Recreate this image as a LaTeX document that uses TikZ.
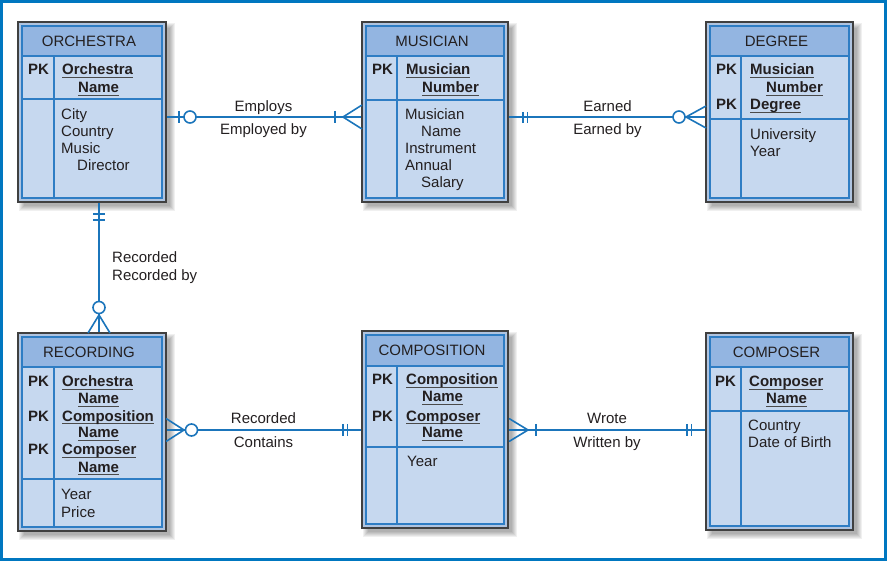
\documentclass[tikz,border=0pt]{standalone}
\usepackage{fontspec}
\setmainfont{Liberation Sans}
\usetikzlibrary{calc}
\definecolor{framec}{HTML}{0077C0}
\definecolor{relblue}{HTML}{1B75BB}
\definecolor{lineblue}{HTML}{2E7DC4}
\definecolor{headfill}{HTML}{93B5E1}
\definecolor{bodyfill}{HTML}{C6D8EF}
\definecolor{bandc}{HTML}{AFC4E0}
\definecolor{textc}{HTML}{231F20}
\definecolor{ulc}{HTML}{4A4A4A}
\newcommand\kul[1]{\setbox0=\hbox{#1}\rlap{\color{ulc}\rule[-3.2pt]{\wd0}{1.6pt}}\box0}
\newcommand\etxt[4]{\node[txt] (#1) at (#2,#3) {#4};}
\newcommand\entbox[9]{%
  \foreach \d in {0,1,2,3,4,5}{
    \fill[black, opacity=0.06] (#2+6-\d,#3+6-\d) rectangle (#4+4+\d,#5+4+\d);
  }
  \node[entframe, minimum width={#4-#2}, minimum height={#5-#3}] (#1) at ({(#2+#4)/2},{(#3+#5)/2}) {};
  \fill[headfill] (#2+4,#3+4) rectangle (#4-4,#6);
  \fill[bodyfill] (#2+4,#6) rectangle (#4-4,#5-4);
  \draw[innerline] (#2+4,#3+4) rectangle (#4-4,#5-4);
  \draw[innerline] (#2+4,#6) -- (#4-4,#6);
  \draw[innerline] (#2+4,#7) -- (#4-4,#7);
  \draw[innerline] (#8,#6) -- (#8,#5-4);
  \node[txt, anchor=base] (#1-t) at ({(#2+#4)/2-3},#3+25) {#9};
}
\tikzset{
  entframe/.style={draw=black!75, line width=1.3pt, fill=bandc, inner sep=0pt},
  innerline/.style={draw=lineblue, line width=1.2pt},
  rel/.style={draw=relblue, line width=1.8pt},
  relmk/.style={draw=relblue, line width=1.6pt},
  txt/.style={inner sep=0pt, anchor=base west, text=textc},
}
\begin{document}
\begin{tikzpicture}[x=1pt, y=-1pt, font=\fontsize{15}{17}\selectfont]
\useasboundingbox (0,0) rectangle (887,561);
\draw[framec, line width=3pt] (1.5,1.5) rectangle (885.5,559.5);

% ---------- entities ----------
\entbox{orch}{18}{22}{166}{202}{56}{99}{54}{ORCHESTRA}
\entbox{mus}{362}{22}{508}{202}{56}{100}{397}{MUSICIAN}
\entbox{deg}{706}{22}{853}{202}{56}{119}{741}{DEGREE}
\entbox{rec}{18}{333}{166}{531}{367}{479}{54}{RECORDING}
\entbox{comp}{362}{331}{508}{528}{366}{447}{397}{COMPOSITION}
\entbox{cmpr}{706}{333}{853}{530}{367}{411}{741}{COMPOSER}

% ORCHESTRA
\etxt{o1}{28}{75}{\textbf{PK}}
\etxt{o2}{62}{75}{\kul{\textbf{Orchestra}}}
\etxt{o3}{78}{93}{\kul{\textbf{Name}}}
\etxt{o4}{61}{120}{City}
\etxt{o5}{61}{137}{Country}
\etxt{o6}{61}{154}{Music}
\etxt{o7}{77}{171}{Director}

% MUSICIAN
\etxt{m1}{372}{75}{\textbf{PK}}
\etxt{m2}{406}{75}{\kul{\textbf{Musician}}}
\etxt{m3}{422}{93}{\kul{\textbf{Number}}}
\etxt{m4}{405}{120}{Musician}
\etxt{m5}{421}{137}{Name}
\etxt{m6}{405}{154}{Instrument}
\etxt{m7}{405}{171}{Annual}
\etxt{m8}{421}{188}{Salary}

% DEGREE
\etxt{d1}{716}{75}{\textbf{PK}}
\etxt{d2}{750}{75}{\kul{\textbf{Musician}}}
\etxt{d3}{766}{93}{\kul{\textbf{Number}}}
\etxt{d4}{716}{110}{\textbf{PK}}
\etxt{d5}{750}{110}{\kul{\textbf{Degree}}}
\etxt{d6}{750}{140}{University}
\etxt{d7}{750}{157}{Year}

% RECORDING
\etxt{r1}{28}{387}{\textbf{PK}}
\etxt{r2}{62}{387}{\kul{\textbf{Orchestra}}}
\etxt{r3}{78}{404}{\kul{\textbf{Name}}}
\etxt{r4}{28}{421}{\textbf{PK}}
\etxt{r5}{62}{421}{\kul{\textbf{Composition}}}
\etxt{r6}{78}{438}{\kul{\textbf{Name}}}
\etxt{r7}{28}{455}{\textbf{PK}}
\etxt{r8}{62}{455}{\kul{\textbf{Composer}}}
\etxt{r9}{78}{472}{\kul{\textbf{Name}}}
\etxt{r10}{61}{500}{Year}
\etxt{r11}{61}{517}{Price}

% COMPOSITION
\etxt{c1}{372}{385}{\textbf{PK}}
\etxt{c2}{406}{385}{\kul{\textbf{Composition}}}
\etxt{c3}{422}{402}{\kul{\textbf{Name}}}
\etxt{c4}{372}{421}{\textbf{PK}}
\etxt{c5}{406}{421}{\kul{\textbf{Composer}}}
\etxt{c6}{422}{438}{\kul{\textbf{Name}}}
\etxt{c7}{407}{467}{Year}

% COMPOSER
\etxt{p1}{715}{387}{\textbf{PK}}
\etxt{p2}{749}{387}{\kul{\textbf{Composer}}}
\etxt{p3}{766}{404}{\kul{\textbf{Name}}}
\etxt{p4}{748}{431}{Country}
\etxt{p5}{748}{448}{Date of Birth}

% ---------- relationships ----------
\coordinate (ya) at (0,117);
\coordinate (yb) at (0,430);
\coordinate (xa) at (99,0);

% ORCHESTRA -- MUSICIAN
\draw[rel] (orch.east |- ya) -- (mus.west |- ya);
\draw[relmk] (179,111) -- (179,123);
\draw[relmk, fill=white] (190,117) circle (6pt);
\draw[relmk] (335,111) -- (335,123);
\draw[relmk] (362,105) -- (343,117) -- (362,129);
\node[txt, anchor=base] (l1) at (263.5,112) {Employs};
\node[txt, anchor=base] (l2) at (263.5,135) {Employed by};

% MUSICIAN -- DEGREE
\draw[rel] (mus.east |- ya) -- (deg.west |- ya);
\draw[relmk] (523,112) -- (523,123);
\draw[relmk] (527.5,112) -- (527.5,123);
\draw[relmk] (706,106) -- (686,117) -- (706,128);
\draw[relmk, fill=white] (679,117) circle (6pt);
\node[txt, anchor=base] (l3) at (607.5,112) {Earned};
\node[txt, anchor=base] (l4) at (607.5,135) {Earned by};

% ORCHESTRA -- RECORDING
\draw[rel] (orch.south -| xa) -- (rec.north -| xa);
\draw[relmk] (93,214) -- (105,214);
\draw[relmk] (93,220) -- (105,220);
\draw[relmk] (88,333) -- (99,315) -- (110,333);
\draw[relmk, fill=white] (99,307.5) circle (6pt);
\node[txt] (l5) at (112,263) {Recorded};
\node[txt] (l6) at (112,281) {Recorded by};

% RECORDING -- COMPOSITION
\draw[rel] (rec.east |- yb) -- (comp.west |- yb);
\draw[relmk] (166,418.5) -- (184,430) -- (166,441.5);
\draw[relmk, fill=white] (191.5,430) circle (6pt);
\draw[relmk] (343,424) -- (343,436);
\draw[relmk] (347.5,424) -- (347.5,436);
\node[txt, anchor=base] (l7) at (263.5,424) {Recorded};
\node[txt, anchor=base] (l8) at (263.5,448) {Contains};

% COMPOSITION -- COMPOSER
\draw[rel] (comp.east |- yb) -- (cmpr.west |- yb);
\draw[relmk] (509,418.5) -- (528,430) -- (509,441.5);
\draw[relmk] (536,424) -- (536,436);
\draw[relmk] (687,424) -- (687,436);
\draw[relmk] (691.5,424) -- (691.5,436);
\node[txt, anchor=base] (l9) at (607,424) {Wrote};
\node[txt, anchor=base] (l10) at (607,448) {Written by};
\end{tikzpicture}
\end{document}
